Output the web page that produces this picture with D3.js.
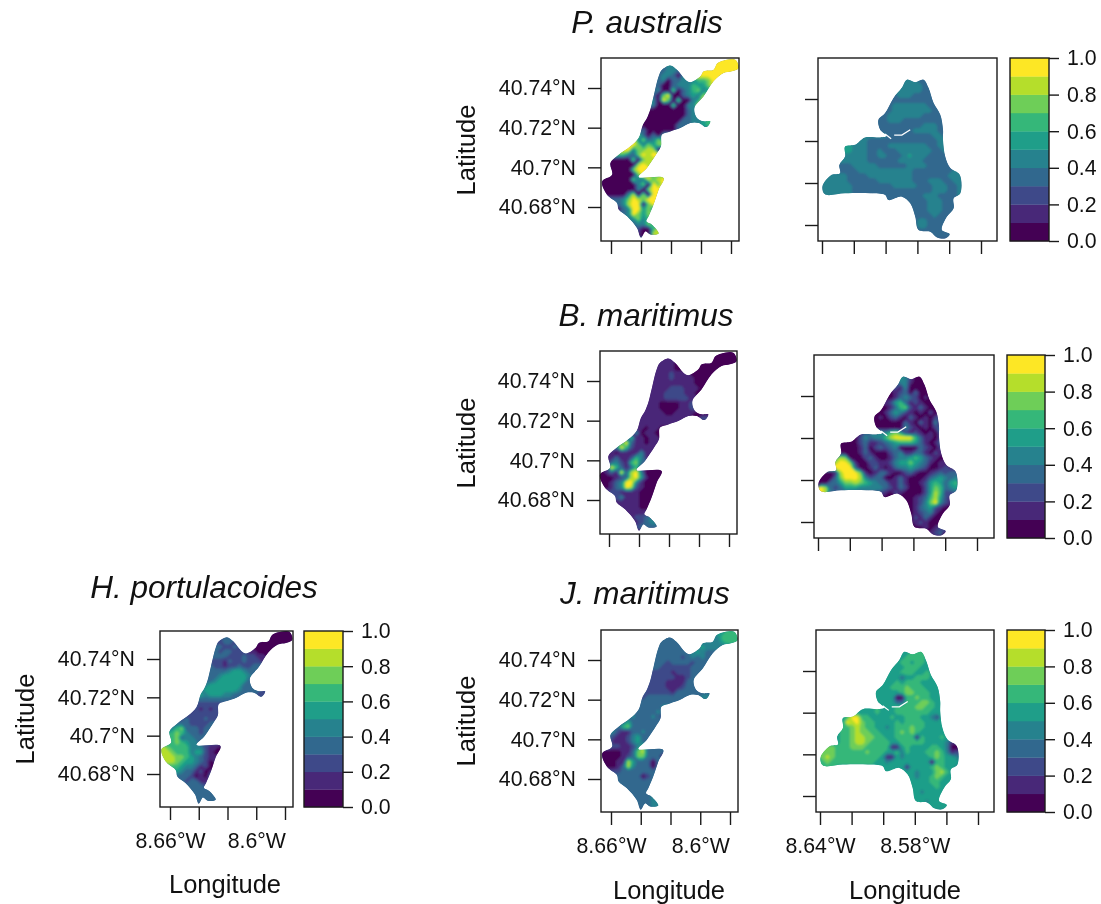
<!DOCTYPE html>
<html>
<head>
<meta charset="utf-8">
<script src="https://d3js.org/d3.v7.min.js"></script>
<style>
  html, body { margin: 0; background: #fff; }
  svg { display: block; filter: blur(0.45px); font-family: "Liberation Sans", Arial, sans-serif; }
  .tick line, .box { stroke: #1a1a1a; stroke-width: 1.4; }
  .tick text { fill: #111; font-size: 21.3px; }
</style>
</head>
<body>
<div id="chart"></div>
<script>
// tick values and labels
var lonTicksWest = [8.66, 8.64, 8.62, 8.6, 8.58];
var lonTicksEast = [8.64, 8.62, 8.6, 8.58, 8.56, 8.54];
var lonLabelsWest = { 8.66: "8.66°W", 8.6: "8.6°W" };
var lonLabelsEast = { 8.64: "8.64°W", 8.58: "8.58°W" };
var latTicks = [40.74, 40.72, 40.7, 40.68];
var latLabels = ["40.74°N", "40.72°N", "40.7°N", "40.68°N"];
var legendBreaks = [0, 0.1, 0.2, 0.3, 0.4, 0.5, 0.6, 0.7, 0.8, 0.9, 1];
var legendTicks = [0, 0.2, 0.4, 0.6, 0.8, 1];

// study area outlines, [deg W, deg N]
var coastWest = [[8.5893,40.7523],[8.5849,40.7539],[8.5771,40.7543],[8.5749,40.7501],[8.5793,40.7484],[8.5849,40.7476],
  [8.5916,40.7434],[8.5982,40.7358],[8.6044,40.7299],[8.6027,40.7249],[8.5982,40.7232],[8.5938,40.7232],[8.5964,40.7203],
  [8.6016,40.7224],[8.6071,40.7224],[8.6138,40.7198],[8.6204,40.7181],[8.6260,40.7165],[8.6267,40.7106],[8.6293,40.7072],
  [8.6360,40.6997],[8.6416,40.6951],[8.6249,40.6946],[8.6282,40.6887],[8.6316,40.6812],[8.6349,40.6753],[8.6364,40.6728],
  [8.6327,40.6711],[8.6282,40.6666],[8.6338,40.6661],[8.6371,40.6677],[8.6400,40.6644],[8.6427,40.6694],[8.6493,40.6753],
  [8.6549,40.6787],[8.6560,40.6820],[8.6627,40.6862],[8.6660,40.6929],[8.6593,40.6963],[8.6604,40.7022],[8.6549,40.7064],
  [8.6471,40.7106],[8.6416,40.7148],[8.6387,40.7215],[8.6360,40.7249],[8.6338,40.7291],[8.6316,40.7358],[8.6282,40.7459],
  [8.6260,40.7492],[8.6204,40.7514],[8.6160,40.7492],[8.6104,40.7442],[8.6071,40.7429],[8.6004,40.7459],[8.5982,40.7484],[8.5916,40.7492]];

var coastEast = [[8.5866,40.7492],[8.5814,40.7480],[8.5761,40.7492],[8.5730,40.7453],[8.5698,40.7381],[8.5656,40.7325],
  [8.5639,40.7254],[8.5639,40.7206],[8.5625,40.7126],[8.5593,40.7071],[8.5534,40.7039],[8.5530,40.6951],[8.5572,40.6927],
  [8.5572,40.6880],[8.5614,40.6840],[8.5646,40.6776],[8.5597,40.6757],[8.5625,40.6736],[8.5677,40.6741],[8.5719,40.6768],
  [8.5793,40.6776],[8.5814,40.6840],[8.5845,40.6903],[8.5898,40.6935],[8.5982,40.6919],[8.6003,40.6943],[8.6097,40.6951],
  [8.6255,40.6951],[8.6381,40.6946],[8.6398,40.6983],[8.6339,40.7039],[8.6287,40.7047],[8.6291,40.7086],[8.6255,40.7126],
  [8.6255,40.7174],[8.6192,40.7182],[8.6129,40.7217],[8.6034,40.7217],[8.5992,40.7225],[8.6034,40.7254],[8.6045,40.7301],
  [8.6003,40.7333],[8.5950,40.7405],[8.5898,40.7453]];

// the thin channel left unmapped in the eastern area
var channelShort = [[8.6003,40.7233],[8.5965,40.7211]];
var channelLong = [[8.5946,40.7228],[8.5898,40.7228],[8.5845,40.7254]];

// raster classes (0-9 = 0.0-1.0 in steps of 0.1), '.' = no data
var rasterWestStart = [8.6667, 40.7551];
var rasterWestStep = [1 / 300, 0.0025];
var rasterEastStart = [8.64, 40.75];
var rasterEastStep = [0.00315, 0.002387];

var australisWest = [
"........................9999",
"............344........99999",
"............3443....99999999",
"...........344304..999999...",
"...........340334446679.....",
"...........300344465579.....",
"..........340070346745......",
"..........30790034547.......",
"..........40970700459.......",
".........34000700449........",
".........0000000034.........",
"........00000000034.........",
"........00000000334456......",
"........00000003334456......",
".......030000003............",
".......730304...............",
"......9473474...............",
".....99747577...............",
"....99477880................",
"...66437989.................",
"..00007078..................",
".000000898..................",
".00000799...................",
".000000799677...............",
"0000007448789...............",
"0000000470979...............",
"000000040799................",
".00004807099................",
"...34798799.................",
"...34899079.................",
"...03499574.................",
"....349757..................",
"......4746..................",
"......34476.................",
".......20068................",
".......10088................"];

var maritimusBWest = [
"........................0000",
"............111........00000",
"............1110....00000000",
"...........111100..000000...",
"...........111211100000.....",
"...........111211110000.....",
"..........111111111000......",
"..........11112221110.......",
"..........11122221100.......",
".........11112222211........",
".........1110000112.........",
"........11110000112.........",
"........11111001111000......",
"........11111111110022......",
".......111111111............",
".......110110...............",
"......1401100...............",
".....36110110...............",
"....69311011................",
"...39621111.................",
"..10111141..................",
".113112641..................",
".13421673...................",
".196313620000...............",
"0131938940000...............",
"0001238951000...............",
"001349941000................",
".01349821000................",
"...21111000.................",
"...24111000.................",
"...11111000.................",
"....111100..................",
"......1111..................",
"......12234.................",
".......12344................",
".......23333................"];

var portulacoidesWest = [
"........................0000",
"............233........00000",
"............2332....00000000",
"...........332232..000000...",
"...........323322211000.....",
"...........333222322110.....",
"..........222132232221......",
"..........32212232233.......",
"..........33334554333.......",
".........33345555543........",
".........3345555553.........",
"........34555555533.........",
"........45555555433332......",
"........54555443333322......",
".......333333333............",
".......222222...............",
"......1212122...............",
".....12222222...............",
"....23222322................",
"...33322223.................",
"..46733323..................",
".567643323..................",
".66734433...................",
".567654422222...............",
"8766664442110...............",
"8876664552100...............",
"888776543211................",
".88765543201................",
"...65443120.................",
"...54331201.................",
"...33320103.................",
"....323311..................",
"......3332..................",
"......33333.................",
".......33333................",
".......33333................"];

var juncusWest = [
"........................5666",
"............333........46666",
"............3333....44445666",
"...........333333..454443...",
"...........333333345433.....",
"...........333332343433.....",
"..........333233332333......",
"..........33222222333.......",
"..........22221222333.......",
".........32222211233........",
".........2222111133.........",
"........22222111233.........",
"........32222213333333......",
"........23333333333344......",
".......333333333............",
".......333334...............",
"......3333343...............",
".....34333431...............",
"....35333333................",
"...36733333.................",
"..42113343..................",
".321124533..................",
".31112453...................",
".322112473333...............",
"0000113783333...............",
"0000123773330...............",
"000118533303................",
".00138433303................",
"...23333333.................",
"...33333023.................",
"...33333333.................",
"....333333..................",
"......3333..................",
"......33334.................",
".......33344................",
".......33344................"];

var australisEast = [
"................44433.......",
"...............4444433......",
"...............4444433......",
"..............34443333......",
"..............333333333.....",
".............3444444433.....",
".............34444444433....",
"............344444443333....",
"...........3344433333333....",
"...........33333333344433...",
"...........33333334444433...",
"........44444333333333443...",
"......4443333333333333344...",
"....554443333444444443344...",
"....554443343334444444334...",
"....444443344333454443333...",
"...4444443333334444433333...",
"...33344444333333444433333..",
"...333344444444444333333334.",
".444433334444444443333333444",
".444433333344444443334443344",
"4444443333333344444333444334",
"4444443333333333333333444334",
"4444443333333333333344433334",
"................33333444333.",
".................3333444333.",
".................333344433..",
"..................3333433...",
"..................3443333...",
"..................344333....",
"...................3333333..",
".....................33333.."];

var maritimusBEast = [
"................54200.......",
"...............3441000......",
"...............2140000......",
"..............01230300......",
"..............013432010.....",
".............1256312100.....",
".............01367213100....",
"............013542101020....",
"...........0102310310102....",
"...........00000031031040...",
"...........00000042101023...",
"........13445467521210103...",
"......0024344689999631102...",
"....000023112345666531013...",
"....000013023234000032102...",
"....000013100023411331021...",
"...5870002310013445653210...",
"...89971002211245575431011..",
"...999930013101344543200121.",
".001899971013310023100123233",
".003799984233001310001345434",
"0033577876543311310012565356",
"9832355544444321320002576345",
"9833333333332102100002586223",
"................00012368521.",
".................0012479421.",
".................001345210..",
"..................0123410...",
"..................0213100...",
"..................012100....",
"...................0010123..",
".....................01230.."];

var juncusEast = [
"................55666.......",
"...............5566665......",
"...............5665665......",
"..............55566655......",
"..............556665565.....",
".............5553556665.....",
".............55656665555....",
"............556667666555....",
"...........5555567766655....",
"...........55550066766556...",
"...........55553366677655...",
"........55565556666776655...",
"......6555565556666666555...",
"....569966555565566655425...",
"....598976655556566665555...",
"....667876655456667665555...",
"...5667877665556767655555...",
"...56678877665566661655565..",
"...566788766665566666555541.",
".776667776666611565555665400",
".776666667666556465556676412",
"7876666666665115455555676554",
"6766666666655455555555066555",
"6665555555555555515555676554",
"................55545557865.",
".................5545567655.",
".................555556655..",
"..................5555565...",
"..................5545555...",
"..................555555....",
"...................5545555..",
".....................55555.."];

var classColors = d3.quantize(d3.interpolateViridis, 10);
var classThresholds = [-1, 0.5, 1.5, 2.5, 3.5, 4.5, 5.5, 6.5, 7.5, 8.5];

var svg = d3.select("#chart").append("svg")
  .attr("width", 1101)
  .attr("height", 904);

var defs = svg.append("defs");
defs.append("filter").attr("id", "soft")
    .attr("x", "-5%").attr("y", "-5%").attr("width", "110%").attr("height", "110%")
  .append("feGaussianBlur").attr("stdDeviation", 0.85);

var panelCount = 0;

// turn the class strings into a flat grid, no-data cells take the nearest value in their row
function rasterToGrid(raster) {
  var values = [];
  raster.forEach(function(row) {
    var chars = row.split("");
    chars.forEach(function(ch, c) {
      var k = 0;
      while (chars[c - k] === "." || chars[c - k] === undefined) {
        if (chars[c + k] !== "." && chars[c + k] !== undefined) { k = -k; break; }
        k++;
      }
      values.push(+chars[c - k]);
    });
  });
  return { values: values, cols: raster[0].length, rows: raster.length };
}

// one map: white box with axes, class contours clipped to the outline
function drawMap(opts) {
  var id = "clip" + (panelCount++);
  var x = d3.scaleLinear().domain(opts.lonDomain).range(opts.xPx);
  var y = d3.scaleLinear().domain([latTicks[0], latTicks[3]]).range(opts.yPx);
  var g = svg.append("g");

  var outline = d3.line().x(function(d) { return x(d[0]); }).y(function(d) { return y(d[1]); });
  var smoothOutline = d3.line().x(function(d) { return x(d[0]); }).y(function(d) { return y(d[1]); })
    .curve(d3.curveCatmullRomClosed.alpha(0.5));

  defs.append("clipPath").attr("id", id).append("path")
    .attr("d", smoothOutline(opts.coast));

  var clipped = g.append("g").attr("clip-path", "url(#" + id + ")");
  clipped.append("path")
    .attr("d", smoothOutline(opts.coast))
    .attr("fill", classColors[opts.baseClass]);

  var grid = rasterToGrid(opts.raster);
  var contours = d3.contours().size([grid.cols, grid.rows]).thresholds(classThresholds)(grid.values);

  var project = d3.geoTransform({
    point: function(gx, gy) {
      this.stream.point(x(opts.start[0] - gx * opts.step[0]), y(opts.start[1] - gy * opts.step[1]));
    }
  });
  var path = d3.geoPath(project);

  clipped.append("g").attr("filter", "url(#soft)")
    .selectAll("path").data(contours).enter().append("path")
      .attr("d", path)
      .attr("fill", function(d, i) { return classColors[i]; });

  if (opts.channels) {
    opts.channels.forEach(function(line) {
      g.append("path").attr("d", outline(line))
        .attr("fill", "none").attr("stroke", "#fff").attr("stroke-width", 1.2);
    });
  }

  g.append("rect").attr("class", "box")
    .attr("x", opts.box[0]).attr("y", opts.box[2])
    .attr("width", opts.box[1] - opts.box[0])
    .attr("height", opts.box[3] - opts.box[2])
    .attr("fill", "none");

  var xAxis = d3.axisBottom(x)
    .tickValues(opts.lonTicks)
    .tickSize(13).tickPadding(13)
    .tickFormat(function(d) { return opts.lonLabels ? (opts.lonLabels[d] || "") : ""; });
  g.append("g").attr("transform", "translate(0," + opts.box[3] + ")")
    .call(xAxis).call(function(a) { a.select(".domain").remove(); })
    .attr("font-family", null).attr("font-size", null);

  var yAxis = d3.axisLeft(y)
    .tickValues(latTicks)
    .tickSize(13).tickPadding(12)
    .tickFormat(function(d, i) { return opts.latTitle ? latLabels[i] : ""; });
  g.append("g").attr("transform", "translate(" + opts.box[0] + ",0)")
    .call(yAxis).call(function(a) { a.select(".domain").remove(); })
    .attr("font-family", null).attr("font-size", null);

  if (opts.latTitle) {
    g.append("text")
      .attr("transform", "translate(" + opts.latTitle[0] + "," + opts.latTitle[1] + ") rotate(-90)")
      .attr("text-anchor", "middle").attr("font-size", 25.5).attr("fill", "#111")
      .text("Latitude");
  }
  if (opts.lonTitle) {
    g.append("text").attr("x", opts.lonTitle[0]).attr("y", opts.lonTitle[1])
      .attr("text-anchor", "middle").attr("font-size", 25.5).attr("fill", "#111")
      .text("Longitude");
  }
}

// filled contour style colour key
function drawLegend(x0, x1, y0, y1) {
  var y = d3.scaleLinear().domain([0, 1]).range([y1, y0]);
  var g = svg.append("g");

  g.selectAll("rect").data(d3.pairs(legendBreaks)).enter().append("rect")
    .attr("x", x0)
    .attr("y", function(d) { return y(d[1]); })
    .attr("width", x1 - x0)
    .attr("height", function(d) { return y(d[0]) - y(d[1]) + 0.3; })
    .attr("fill", function(d, i) { return classColors[i]; });

  g.append("rect").attr("class", "box")
    .attr("x", x0).attr("y", y0)
    .attr("width", x1 - x0).attr("height", y1 - y0)
    .attr("fill", "none");

  g.append("g").attr("transform", "translate(" + x1 + ",0)")
    .call(d3.axisRight(y).tickValues(legendTicks).tickSize(10).tickPadding(8).tickFormat(d3.format(".1f")))
    .call(function(a) { a.select(".domain").remove(); })
    .attr("font-family", null).attr("font-size", null);
}

function drawTitle(label, x, y) {
  svg.append("text").attr("x", x).attr("y", y)
    .attr("text-anchor", "middle").attr("font-style", "italic")
    .attr("font-size", 31.5).attr("fill", "#111")
    .text(label);
}

var westDomain = [lonTicksWest[0], lonTicksWest[4]];
var eastDomain = [lonTicksEast[0], lonTicksEast[5]];

function west(raster, baseClass, box, xPx, yPx, extra) {
  drawMap(Object.assign({ raster: raster, baseClass: baseClass, box: box, xPx: xPx, yPx: yPx,
    lonDomain: westDomain, lonTicks: lonTicksWest, coast: coastWest,
    start: rasterWestStart, step: rasterWestStep }, extra));
}
function east(raster, baseClass, box, xPx, yPx, extra) {
  drawMap(Object.assign({ raster: raster, baseClass: baseClass, box: box, xPx: xPx, yPx: yPx,
    lonDomain: eastDomain, lonTicks: lonTicksEast, coast: coastEast,
    start: rasterEastStart, step: rasterEastStep, channels: [channelShort, channelLong] }, extra));
}

// P. australis
drawTitle("P. australis", 647, 33);
west(australisWest, 3, [601, 739, 58, 241], [611, 731], [88, 207], { latTitle: [475, 150] });
east(australisEast, 3, [818, 997, 58, 241], [822, 981], [99, 225], {});
drawLegend(1010, 1049, 58, 241);

// B. maritimus
drawTitle("B. maritimus", 646, 326);
west(maritimusBWest, 1, [600, 737, 351, 534], [609, 729], [381, 500], { latTitle: [475, 443] });
east(maritimusBEast, 1, [814, 994, 355, 538], [818, 977], [396, 522], {});
drawLegend(1007, 1045, 355, 538);

// J. maritimus
drawTitle("J. maritimus", 645, 604);
west(juncusWest, 3, [601, 738, 630, 812], [611, 730], [660, 779], {
  lonLabels: lonLabelsWest, latTitle: [475, 721], lonTitle: [669, 899] });
east(juncusEast, 5, [816, 994, 630, 812], [820, 978], [671, 796], {
  lonLabels: lonLabelsEast, lonTitle: [905, 899] });
drawLegend(1007, 1045, 630, 812);

// H. portulacoides
drawTitle("H. portulacoides", 204, 598);
west(portulacoidesWest, 3, [160, 293, 631, 807], [170, 285], [659, 774], {
  lonLabels: lonLabelsWest, latTitle: [34, 719], lonTitle: [225, 893] });
drawLegend(304, 343, 631, 807);
</script>
</body>
</html>
